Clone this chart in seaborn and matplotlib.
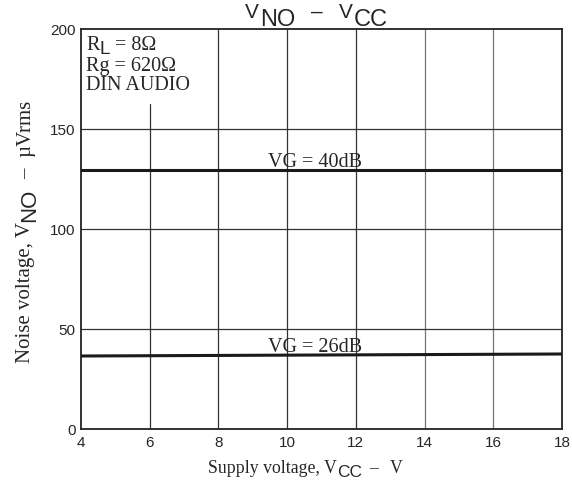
import numpy as np
import pandas as pd
import matplotlib.pyplot as plt
import seaborn as sns

# datos
vcc = [4, 18]
vno_40db = [129.5, 129.5]
vno_26db = [36.5, 37.5]
x_ticks = [4, 6, 8, 10, 12, 14, 16, 18]
y_ticks = [0, 50, 100, 150, 200]

df = pd.DataFrame({
    "vcc": vcc + vcc,
    "vno": vno_40db + vno_26db,
    "vg": ["40dB", "40dB", "26dB", "26dB"],
})

sns.set_style("white")
plt.rcParams["font.family"] = ["Liberation Sans", "DejaVu Sans"]
serif = ["Liberation Serif", "DejaVu Serif"]
sans = ["Liberation Sans", "DejaVu Sans"]

W, H = 572, 481
fig = plt.figure(figsize=(W / 100, H / 100), dpi=100)
ax = fig.add_axes([81 / W, 51 / H, 481 / W, 400 / H])
renderer = fig.canvas.get_renderer()


#texto con subindices del mismo tamaño, pieza por pieza (coordenadas en pixeles de la imagen)
#baja = cuanto baja la pieza (subindice), gap = espacio despues de la pieza
def texto_partes(x0, y0, partes, rot=0):
    pos = 0
    for s, fam, size, baja, gap in partes:
        t = fig.text(0, 0, s, family=fam, fontsize=size, rotation=rot,
                     ha="left", va="baseline", rotation_mode="anchor")
        bb = t.get_window_extent(renderer)
        largo = bb.width if rot == 0 else bb.height
        if rot == 0:
            t.set_position(((x0 + pos) / W, (H - y0 - baja) / H))
        else:
            t.set_position(((x0 + baja) / W, (H - y0 + pos) / H))
        pos += largo + gap


# cuadricula
for x in x_ticks[1:-1]:
    top = 162.5 if x == 6 else 200
    color = "#777777" if x in (14, 16) else "#333333"
    ax.plot([x, x], [0, top], color=color, lw=0.9, zorder=1)
for y in y_ticks[1:-1]:
    ax.axhline(y, color="#333333", lw=0.9, zorder=1)

sns.lineplot(data=df, x="vcc", y="vno", units="vg", estimator=None,
             color="#1a1a1a", lw=2.2, ax=ax, zorder=3)

ax.set_xlim(4, 18)
ax.set_ylim(0, 200)
ax.set_xticks(x_ticks)
ax.set_yticks(y_ticks)
ax.set_xlabel("")
ax.set_ylabel("")
ax.tick_params(length=0, labelsize=11, pad=4)
for s in ax.spines.values():
    s.set_color("#222222")
    s.set_linewidth(1.3)

# titulo
texto_partes(245, 18, [("V", sans, 15, 0, 1), ("NO", sans, 17, 8, 16),
                       ("–", sans, 15, 0, 16), ("V", sans, 15, 0, 1),
                       ("CC", sans, 17, 8, 0)])
# eje x
texto_partes(208, 473, [("Supply voltage, V", serif, 12.8, 0, 0),
                        ("CC", sans, 12.5, 4, 7), ("–", serif, 12.8, 0, 12),
                        ("V", serif, 12.8, 0, 0)])
# eje y
texto_partes(30, 363, [("Noise voltage, V", serif, 15, 0, 0),
                       ("NO", sans, 16, 5, 10), ("–", serif, 15, 0, 11),
                       ("µVrms", serif, 15, 0, 0)], rot=90)

# anotaciones
texto_partes(86, 50, [("R", serif, 14.5, 0, 0), ("L", sans, 13.5, 4, 0),
                      (" = 8Ω", serif, 14.5, 0, 0)])
texto_partes(86, 71, [("Rg = 620Ω", serif, 14.5, 0, 0)])
texto_partes(86, 90, [("DIN AUDIO", serif, 14.5, 0, 0)])
ax.text(10.8, 131.5, "VG = 40dB", family=serif, fontsize=14.5, ha="center", va="baseline")
ax.text(10.8, 39, "VG = 26dB", family=serif, fontsize=14.5, ha="center", va="baseline")

fig.savefig("out.png", dpi=100)
